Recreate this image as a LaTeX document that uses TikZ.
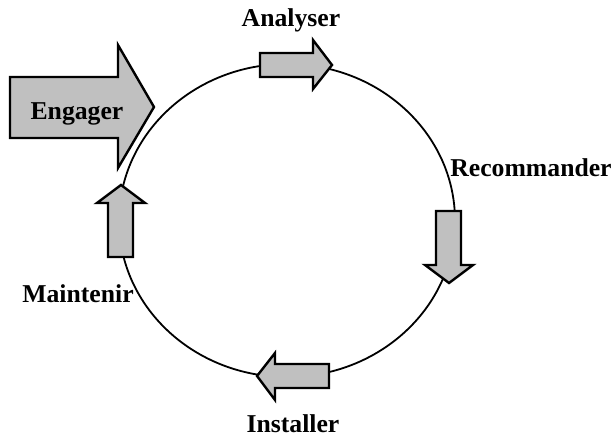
\documentclass[tikz,border=0pt]{standalone}
\usepackage{fontspec}
\setmainfont{Liberation Serif}
\begin{document}
\begin{tikzpicture}[x=1pt,y=-1pt,
  lbl/.style={font=\fontsize{25.7}{30}\selectfont\bfseries, inner sep=0pt, anchor=base},
  arr/.style={draw=black, fill=arrowgrey, line width=2.4pt, line join=miter},
  ring/.style={draw=black, line width=1.8pt}]
\definecolor{arrowgrey}{RGB}{192,192,192}
\useasboundingbox (0,0) rectangle (616,438);
% cycle
\draw[ring] (287,220.5) ellipse [x radius=168, y radius=156.5];
% arrows
\draw[arr] (10,77) -- (118,77) -- (118,45) -- (154,107) -- (118,168) -- (118,138) -- (10,138) -- cycle;
\draw[arr] (260,53) -- (313,53) -- (313,40) -- (332,65) -- (313,89) -- (313,77) -- (260,77) -- cycle;
\draw[arr] (436,211) -- (461,211) -- (461,265) -- (473,265) -- (449,283) -- (425,265) -- (436,265) -- cycle;
\draw[arr] (108,257) -- (108,203) -- (97,203) -- (121,185) -- (145,203) -- (133,203) -- (133,257) -- cycle;
\draw[arr] (329,364) -- (275,364) -- (275,353) -- (257,376) -- (275,400) -- (275,388) -- (329,388) -- cycle;
% labels
\node[lbl] (engager) at (77,120) {Engager};
\node[lbl] (analyser) at (291,26.7) {Analyser};
\node[lbl] (recommander) at (531,177) {Recommander};
\node[lbl] (maintenir) at (78,303) {Maintenir};
\node[lbl] (installer) at (293,432) {Installer};
\end{tikzpicture}
\end{document}
